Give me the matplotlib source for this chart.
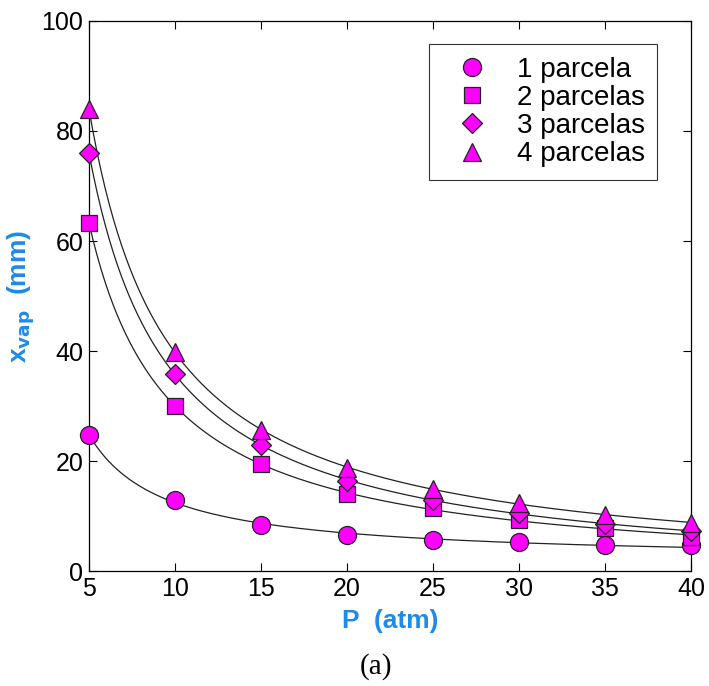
import numpy as np
import matplotlib.pyplot as plt

plt.rcParams['font.family'] = ['Liberation Sans', 'DejaVu Sans']

# pressao (atm)
P = [5, 10, 15, 20, 25, 30, 35, 40]

# x_vap (mm)
x_1parc = [24.7, 12.9, 8.4, 6.5, 5.6, 5.2, 4.7, 4.7]
x_2parc = [63.3, 30.0, 19.4, 14.0, 11.5, 9.3, 7.8, 6.2]
x_3parc = [76.0, 35.8, 22.9, 16.3, 13.0, 10.5, 8.6, 7.3]
x_4parc = [84.0, 39.8, 25.6, 18.8, 15.0, 12.4, 10.2, 8.7]

series = [
    (x_1parc, 'o', '1 parcela'),
    (x_2parc, 's', '2 parcelas'),
    (x_3parc, 'D', '3 parcelas'),
    (x_4parc, '^', '4 parcelas'),
]
msizes = {'o': 13, 's': 12, 'D': 10, '^': 13}

azul = '#1f8ae8'

fig = plt.figure(figsize=(7.09, 6.86), dpi=100)
ax = fig.add_axes([0.1255, 0.1676, 0.849, 0.8018])

# curva ajustada: x = a + b/P + c/P^2 (minimos quadrados)
Pf = np.linspace(5, 40, 300)
Pa = np.array(P, dtype=float)
for ys, m, lab in series:
    coef = np.polyfit(1.0 / Pa, ys, 2)
    ax.plot(Pf, np.polyval(coef, 1.0 / Pf), color='#222222', lw=0.9, zorder=2)

for ys, m, lab in series:
    ax.plot(P, ys, linestyle='none', marker=m, ms=msizes[m], mfc='#ff00ff',
            mec='#222222', mew=0.9, label=lab, zorder=3, clip_on=False)

ax.set_xlim(5, 40)
ax.set_ylim(0, 100)
ax.set_xticks(range(5, 41, 5))
ax.set_yticks(range(0, 101, 20))
ax.tick_params(direction='in', top=True, right=True, length=6, width=0.8,
               labelsize=18, pad=4)
for s in ax.spines.values():
    s.set_linewidth(0.9)

ax.set_xlabel('P  (atm)', color=azul, fontsize=19, fontweight='bold', labelpad=6)
ax.set_ylabel(r'x$_{\mathbf{vap}}$  (mm)', color=azul, fontsize=19,
              fontweight='bold', labelpad=3)

leg = ax.legend(loc='upper right', bbox_to_anchor=(0.944, 0.958), fontsize=20,
                frameon=True, fancybox=False, edgecolor='black',
                borderaxespad=0, handletextpad=0.5, borderpad=0.45,
                labelspacing=0.08, handlelength=2.2)
leg.get_frame().set_linewidth(0.8)

fig.text(0.53, 0.028, '(a)', ha='center', va='center', fontsize=21,
         family='Liberation Serif')

fig.savefig('out.png', dpi=100)
